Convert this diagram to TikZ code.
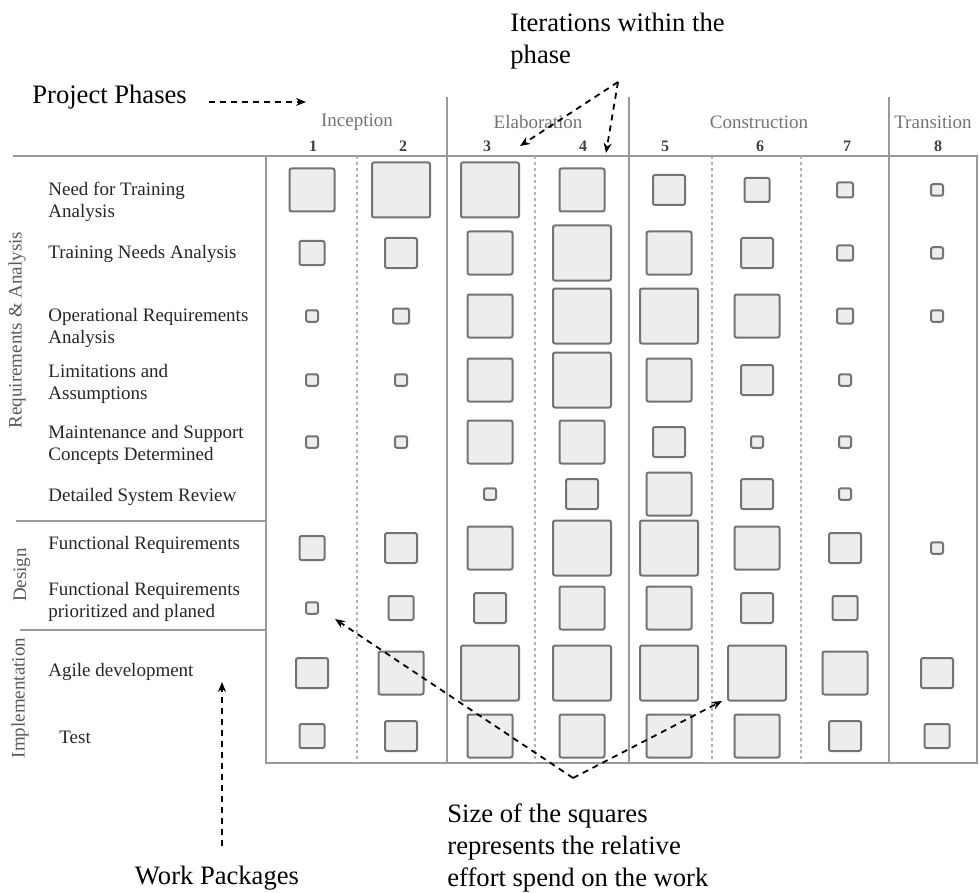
\documentclass[tikz,border=0pt]{standalone}
\usepackage{fontspec}
\setmainfont{Liberation Serif}
\usetikzlibrary{positioning, arrows.meta}

\begin{document}
\begin{tikzpicture}[
	x=0.5pt, y=-0.5pt,
	% Define styles
	note/.style={font=\fontsize{13.3}{16}\selectfont, align=left, inner sep=0pt},
	package/.style={font=\fontsize{9.5}{11.3}\selectfont, text=black!85, align=left, anchor=west, inner sep=0pt},
	group/.style={font=\fontsize{9.5}{11}\selectfont, text=black!65, rotate=90, inner sep=0pt},
	phasename/.style={font=\fontsize{9.5}{11}\selectfont, text=black!55, inner sep=0pt},
	iternum/.style={font=\bfseries\fontsize{8}{9}\selectfont, text=black!75, inner sep=0pt},
	effort/.style={rectangle, draw=black!55, fill=black!7, line width=1pt, rounded corners=1pt, inner sep=0pt},
	gridline/.style={draw=black!40, line width=0.8pt},
	iterline/.style={draw=black!30, line width=0.6pt, dash pattern=on 1.5pt off 1.5pt},
	arrow/.style={-{Stealth[length=5pt, width=4pt]}, dash pattern=on 3pt off 2.5pt, line width=0.9pt, black}
	]
	\useasboundingbox (0,0) rectangle (979,893);
	
	% 1. Table frame
	\draw[gridline] (266,156) rectangle (977,763);
	\draw[gridline] (13,156) -- (266,156);
	\draw[gridline] (16,521) -- (266,521);
	\draw[gridline] (20,630) -- (266,630);
	\foreach \x in {447,629,889}
		\draw[gridline] (\x,97) -- (\x,763);
	\foreach \x in {357,535,712,801}
		\draw[iterline] (\x,156) -- (\x,763);
	
	% Phases and iterations
	\node[phasename] (inception) at (357,122) {Inception};
	\node[phasename] (elaboration) at (538,122) {Elaboration};
	\node[phasename] (construction) at (759,122) {Construction};
	\node[phasename] (transition) at (933,122) {Transition};
	\foreach \x [count=\i] in {313,403,487,583,665,760,847,938}
		\node[iternum] (it\i) at (\x,146) {\i};
	
	% 2. Work packages
	\node[package] (need) at (48,202) {Need for Training\\Analysis};
	\node[package] (tna) at (48,254) {Training Needs Analysis};
	\node[package] (ora) at (48,328) {Operational Requirements\\Analysis};
	\node[package] (limits) at (48,384) {Limitations and\\Assumptions};
	\node[package] (maint) at (48,445) {Maintenance and Support\\Concepts Determined};
	\node[package] (review) at (48,497) {Detailed System Review};
	\node[package] (funcreq) at (48,545) {Functional Requirements};
	\node[package] (prio) at (48,602) {Functional Requirements\\prioritized and planed};
	\node[package] (agile) at (48,672) {Agile development};
	\node[package] (test) at (59,737) {Test};
	
	\node[group] (reqs) at (17,330) {Requirements \& Analysis};
	\node[group] (design) at (22,575) {Design};
	\node[group] (impl) at (20,698) {Implementation};
	
	% 3. Effort squares (0 = none)
	\foreach \yy/\la/\lb/\lc/\ld/\le/\lf/\lg/\lh [count=\r] in {
		190/5/6/6/5/4/3/2/1, 253/3/4/5/6/5/4/2/1, 316/1/2/5/6/6/5/2/1,
		380/1/1/5/6/5/4/1/0, 442/1/1/5/5/4/1/1/0, 494/0/0/1/4/5/4/1/0,
		548/3/4/5/6/6/5/4/1, 608/1/3/4/5/5/4/3/0, 673/4/5/6/6/6/6/5/4,
		736/3/4/5/5/5/5/4/3}
		\foreach \l [count=\c] in {\la,\lb,\lc,\ld,\le,\lf,\lg,\lh} {
			\ifnum\l>0
				\pgfmathsetmacro\xx{{312,401,490,582,669,757,845,937}[\c-1]}
				\pgfmathsetmacro\ww{{0,12,16,25,32,45,58}[\l]}
				\pgfmathsetmacro\hh{{0,11.5,15,24,30,43,55}[\l]}
				\node[effort, minimum width=\ww*0.5pt, minimum height=\hh*0.5pt] (sq-\r-\c) at (\xx,\yy) {};
			\fi
		}
	
	% 4. Notes
	\node[note, anchor=west] (phases) at (32,97) {Project Phases};
	\coordinate (phasetip) at (306,102);
	\draw[arrow] ([xshift=11pt, yshift=-2.5pt]phases.east) -- (phasetip);
	
	\node[note, anchor=north west] (iters) at (510,13) {Iterations within the\\phase};
	\coordinate (itapex) at (618,82);
	\coordinate (it3tip) at (520,146);
	\coordinate (it4tip) at (606,153);
	\draw[arrow] (itapex) -- (it3tip);
	\draw[arrow] (itapex) -- (it4tip);
	
	\node[note] (wp) at (217,878) {Work Packages};
	\coordinate (wptip) at (222,682);
	\draw[arrow] ([xshift=2.5pt, yshift=10pt]wp.north) -- (wptip);
	
	\node[note, anchor=north west] (size) at (447,803) {Size of the squares\\represents the relative\\effort spend on the work};
	\coordinate (szapex) at (573,778);
	\coordinate (szleft) at (335,619);
	\coordinate (szright) at (722,701);
	\draw[arrow] (szapex) -- (szleft);
	\draw[arrow] (szapex) -- (szright);
\end{tikzpicture}
\end{document}
